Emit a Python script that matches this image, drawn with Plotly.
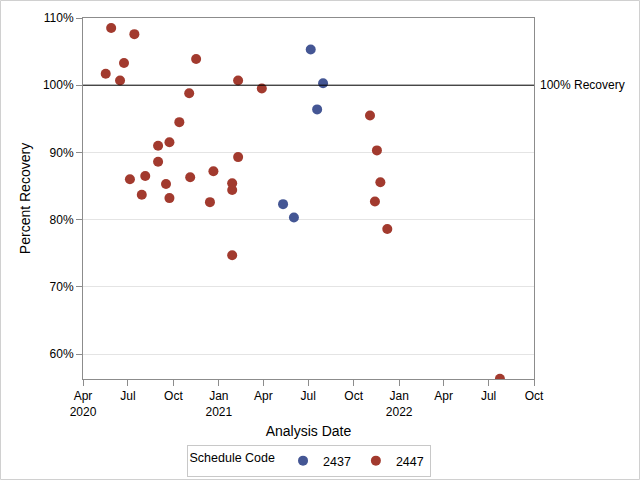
import plotly.graph_objects as go

# Schedule code 2447 (red)
dates_2447 = ["2020-05-17", "2020-05-28", "2020-06-15", "2020-06-23", "2020-07-05", "2020-07-14",
              "2020-07-29", "2020-08-05", "2020-08-31", "2020-08-31", "2020-09-16", "2020-09-23",
              "2020-09-23", "2020-10-13", "2020-11-02", "2020-11-04", "2020-11-16", "2020-12-14",
              "2020-12-21", "2021-01-28", "2021-01-28", "2021-01-28", "2021-02-09", "2021-02-09",
              "2021-03-29", "2021-11-03", "2021-11-13", "2021-11-17", "2021-11-24", "2021-12-08",
              "2022-07-24"]
recovery_2447 = [101.7, 108.5, 100.7, 103.3, 86.0, 107.6,
                 83.7, 86.5, 91.0, 88.6, 85.3, 91.5,
                 83.2, 94.5, 98.8, 86.3, 103.9, 82.6,
                 87.2, 85.4, 84.4, 74.7, 100.7, 89.3,
                 99.5, 95.5, 82.7, 90.3, 85.55, 78.6,
                 56.3]

# Schedule code 2437 (blue)
dates_2437 = ["2021-05-11", "2021-06-02", "2021-07-06", "2021-07-19", "2021-07-31"]
recovery_2437 = [82.3, 80.3, 105.3, 96.4, 100.3]

tick_dates = ["2020-04-01", "2020-07-01", "2020-10-01", "2021-01-01", "2021-04-01", "2021-07-01",
              "2021-10-01", "2022-01-01", "2022-04-01", "2022-07-01", "2022-10-01"]
tick_labels = ["Apr<br>2020", "Jul", "Oct", "Jan<br>2021", "Apr", "Jul",
               "Oct", "Jan<br>2022", "Apr", "Jul", "Oct"]
y_ticks = [60, 70, 80, 90, 100, 110]
y_labels = ["60%", "70%", "80%", "90%", "100%", "110%"]

FONT = "Liberation Sans, Arial, sans-serif"

fig = go.Figure()
fig.add_trace(go.Scatter(x=dates_2437, y=recovery_2437, mode="markers", name="2437",
                         marker=dict(color="#445694", size=10)))
fig.add_trace(go.Scatter(x=dates_2447, y=recovery_2447, mode="markers", name="2447",
                         marker=dict(color="#A23A2E", size=10)))

fig.add_shape(type="line", xref="paper", x0=0, x1=1, yref="y", y0=100, y1=100,
              line=dict(color="black", width=1))
fig.add_annotation(xref="paper", x=1.0, yref="y", y=100, text="100% Recovery",
                   showarrow=False, xanchor="left", xshift=4,
                   font=dict(family=FONT, size=12, color="black"))

# outer border
W, H = 451, 361
fig.add_shape(type="rect", xref="paper", yref="paper",
              x0=(0.5 - 83) / W, x1=(639.5 - 83) / W,
              y0=(379 - 479.5) / H, y1=(379 - 0.5) / H,
              line=dict(color="#d0d0d0", width=1))

fig.update_layout(
    width=640, height=480,
    margin=dict(l=83, r=106, t=18, b=101, autoexpand=False),
    paper_bgcolor="white", plot_bgcolor="white",
    font=dict(family=FONT, size=12, color="black"),
    showlegend=True,
    legend=dict(orientation="h", x=0.5, xanchor="center", y=(379 - 445) / H, yanchor="top",
                title=dict(text="Schedule Code", font=dict(size=12.5), side="left"),
                bordercolor="#c8c8c8", borderwidth=1, font=dict(size=12.5),
                itemwidth=30, tracegroupgap=0),
)
fig.update_xaxes(
    type="date", range=["2020-04-01", "2022-10-01"],
    tickmode="array", tickvals=tick_dates, ticktext=tick_labels,
    ticks="outside", ticklen=6, tickcolor="#8c8c8c",
    showline=True, linecolor="#8c8c8c", mirror=True, showgrid=False, zeroline=False,
    title=dict(text="Analysis Date", standoff=8),
)
fig.update_yaxes(
    range=[56.28, 110], tickmode="array", tickvals=y_ticks, ticktext=y_labels,
    ticks="outside", ticklen=6, tickcolor="#8c8c8c",
    showline=True, linecolor="#8c8c8c", mirror=True,
    showgrid=True, gridcolor="#e4e4e4", zeroline=False,
    title=dict(text="Percent Recovery", standoff=8),
)

fig.write_html("out.html", config={"displayModeBar": False},
               post_script="document.body.style.margin='0';")
